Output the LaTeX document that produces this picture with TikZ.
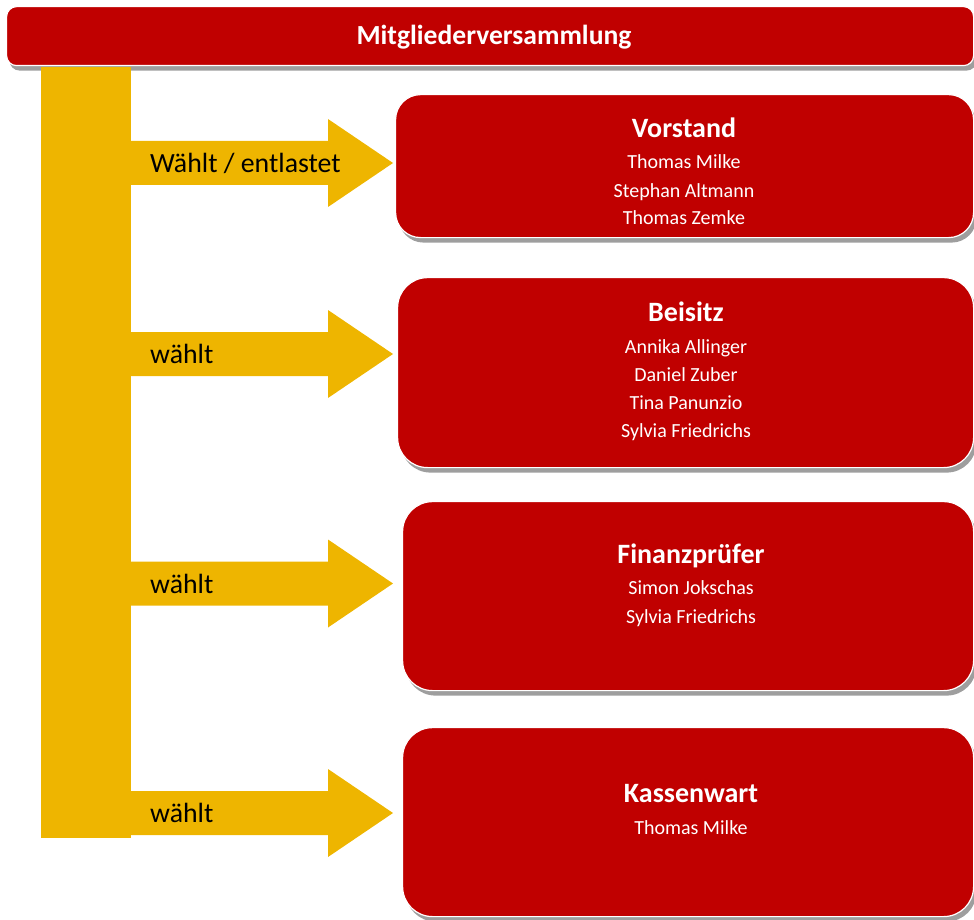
\documentclass[tikz,border=0pt]{standalone}
\usepackage{fontspec}
\setmainfont{Carlito}
\usetikzlibrary{shadows}
\definecolor{vred}{RGB}{192,0,0}
\definecolor{vgold}{RGB}{238,181,0}
\definecolor{vshadow}{RGB}{158,158,158}
\begin{document}
\begin{tikzpicture}[x=1pt,y=-1pt,
  redbox/.style={fill=vred, draw=white, line width=1.2pt, inner sep=0pt,
    drop shadow={shadow xshift=3pt,shadow yshift=-5pt,fill=vshadow,opacity=1}},
  boxtitle/.style={text=white, font=\fontsize{28}{32}\selectfont\bfseries, anchor=base, inner sep=0pt},
  boxname/.style={text=white, font=\fontsize{20}{24}\selectfont, anchor=base, inner sep=0pt},
  arrowlabel/.style={text=black, font=\fontsize{27.8}{32}\selectfont, anchor=base west, inner sep=0pt},
  fatarrow/.pic={\fill[vgold] (0,-22) -- (197,-22) -- (197,-44) -- (262,0) -- (197,44) -- (197,22) -- (0,22) -- cycle;}
]
\useasboundingbox (0,0) rectangle (974,920);

% top bar
\node[redbox, rounded corners=10pt, minimum width=967pt, minimum height=59pt, anchor=north west] (mv) at (6,6) {};
\node[text=white, font=\fontsize{27.6}{32}\selectfont\bfseries, anchor=base, inner sep=0pt] (mvtext) at (494,45) {Mitgliederversammlung};

% boxes
\node[redbox, rounded corners=25pt, minimum width=578pt, minimum height=143pt, anchor=north west] (vor) at (395,94) {};
\node[redbox, rounded corners=30pt, minimum width=576pt, minimum height=190pt, anchor=north west] (bei) at (397,277) {};
\node[redbox, rounded corners=30pt, minimum width=571pt, minimum height=189pt, anchor=north west] (fin) at (402,501) {};
\node[redbox, rounded corners=30pt, minimum width=571pt, minimum height=189pt, anchor=north west] (kas) at (402,727) {};

% vertical bar
\node[fill=vgold, inner sep=0pt, minimum width=90pt, minimum height=771pt, anchor=north west] (bar) at (41,67) {};

% arrows
\coordinate (a1) at (131,163);
\coordinate (a2) at (131,354);
\coordinate (a3) at (131,583.5);
\coordinate (a4) at (131,813);
\pic at (a1) {fatarrow};
\pic at (a2) {fatarrow};
\pic at (a3) {fatarrow};
\pic at (a4) {fatarrow};

\node[arrowlabel] (l1) at (150,172.5) {Wählt / entlastet};
\node[arrowlabel] (l2) at (150,363.5) {wählt};
\node[arrowlabel] (l3) at (150,593) {wählt};
\node[arrowlabel] (l4) at (150,822.5) {wählt};

% Vorstand
\node[boxtitle] (vt) at (684,137.5) {Vorstand};
\node[boxname] (v1) at (684,169) {Thomas Milke};
\node[boxname] (v2) at (684,197) {Stephan Altmann};
\node[boxname] (v3) at (684,225) {Thomas Zemke};

% Beisitz
\node[boxtitle] (bt) at (686,321.5) {Beisitz};
\node[boxname] (b1) at (686,353) {Annika Allinger};
\node[boxname] (b2) at (686,381) {Daniel Zuber};
\node[boxname] (b3) at (686,409) {Tina Panunzio};
\node[boxname] (b4) at (686,437) {Sylvia Friedrichs};

% Finanzpruefer
\node[boxtitle] (ft) at (691,563.5) {Finanzprüfer};
\node[boxname] (f1) at (691,594) {Simon Jokschas};
\node[boxname] (f2) at (691,623) {Sylvia Friedrichs};

% Kassenwart
\node[boxtitle] (kt) at (691,802.5) {Kassenwart};
\node[boxname] (k1) at (691,834) {Thomas Milke};
\end{tikzpicture}
\end{document}
